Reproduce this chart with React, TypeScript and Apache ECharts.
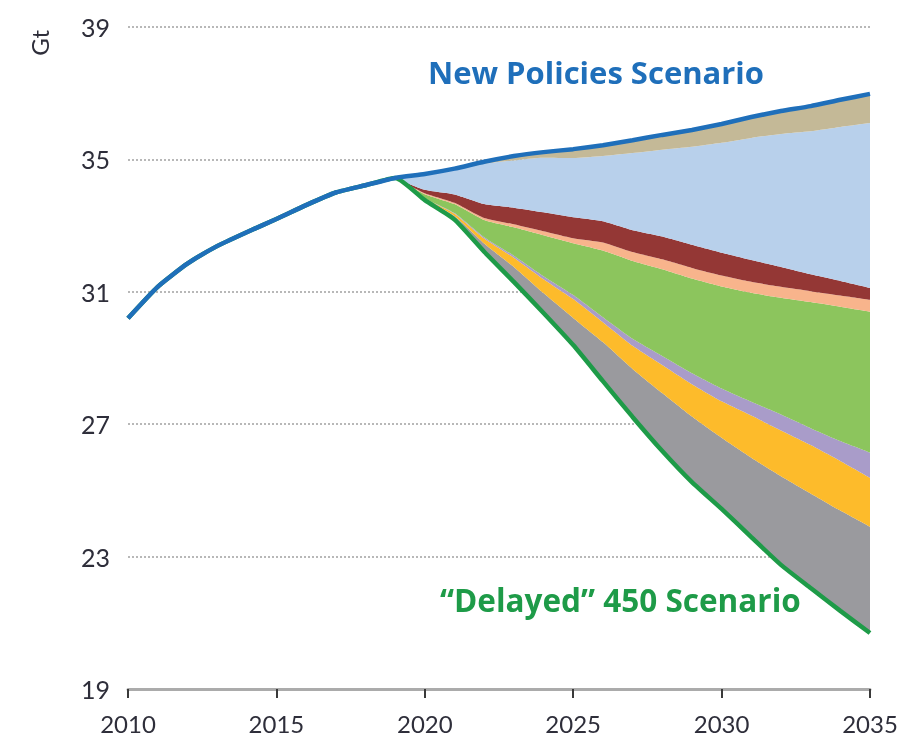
import React, { useEffect, useRef } from "react";
import * as echarts from "echarts";

const years = [
  "2010", "2011", "2012", "2013", "2014", "2015", "2016", "2017", "2018", "2019",
  "2020", "2021", "2022", "2023", "2024", "2025", "2026", "2027", "2028", "2029",
  "2030", "2031", "2032", "2033", "2034", "2035",
];

// New Policies Scenario (Gt)
const newPolicies = [
  30.2, 31.15, 31.85, 32.38, 32.8, 33.2, 33.62, 34.0, 34.22, 34.44,
  34.56, 34.72, 34.93, 35.1, 35.22, 35.31, 35.43, 35.58, 35.74, 35.89,
  36.07, 36.28, 36.46, 36.61, 36.8, 36.98,
];

// "Delayed" 450 Scenario (Gt)
const delayed450 = [
  30.2, 31.15, 31.85, 32.38, 32.8, 33.2, 33.62, 34.0, 34.22, 34.44,
  33.77, 33.18, 32.21, 31.3, 30.36, 29.39, 28.3, 27.22, 26.19, 25.25,
  24.44, 23.59, 22.75, 22.05, 21.36, 20.69,
];

// Wedge widths from 2019 to 2035 (Gt), bottom to top
const wedgeYears = 17;
const grayWedge = [0, 0.03, 0.11, 0.25, 0.45, 0.6, 0.82, 1.18, 1.45, 1.75, 1.98, 2.15, 2.4, 2.68, 2.86, 3.03, 3.21];
const orangeWedge = [0, 0.02, 0.07, 0.15, 0.28, 0.42, 0.57, 0.6, 0.7, 0.85, 0.98, 1.1, 1.27, 1.38, 1.46, 1.5, 1.48];
const purpleWedge = [0, 0.01, 0.02, 0.04, 0.06, 0.09, 0.12, 0.15, 0.21, 0.27, 0.33, 0.39, 0.42, 0.48, 0.51, 0.6, 0.76];
const greenWedge = [0, 0.12, 0.27, 0.52, 0.86, 1.24, 1.57, 2.02, 2.35, 2.62, 2.86, 3.08, 3.29, 3.53, 3.81, 4.06, 4.26];
const salmonWedge = [0, 0.03, 0.04, 0.06, 0.09, 0.12, 0.15, 0.24, 0.27, 0.3, 0.32, 0.33, 0.33, 0.33, 0.33, 0.34, 0.36];
const darkRedWedge = [0, 0.1, 0.25, 0.42, 0.5, 0.57, 0.63, 0.64, 0.66, 0.69, 0.7, 0.69, 0.66, 0.6, 0.51, 0.44, 0.36];
const lightBlueWedge = [0, 0.45, 0.74, 1.22, 1.43, 1.65, 1.79, 1.97, 2.33, 2.62, 2.96, 3.32, 3.69, 4.02, 4.32, 4.65, 4.98];
const tanWedge = [0, 0.03, 0.08, 0.11, 0.15, 0.19, 0.27, 0.33, 0.39, 0.45, 0.51, 0.57, 0.63, 0.69, 0.76, 0.82, 0.88];

const yTicks = { min: 19, max: 39, interval: 4 };

const wedges = [
  { name: "gray", data: grayWedge, color: "#9a9a9e" },
  { name: "orange", data: orangeWedge, color: "#fdbb2b" },
  { name: "purple", data: purpleWedge, color: "#a99cc9" },
  { name: "green", data: greenWedge, color: "#8cc55d" },
  { name: "salmon", data: salmonWedge, color: "#f8b48c" },
  { name: "darkred", data: darkRedWedge, color: "#943735" },
  { name: "lightblue", data: lightBlueWedge, color: "#b8d0eb" },
  { name: "tan", data: tanWedge, color: "#c4b997" },
];

const SMOOTH = 0.18;

const pad = (arr: number[]) => {
  const lead = years.length - wedgeYears;
  const out: (number | string)[] = [];
  for (let i = 0; i < lead; i++) out.push("-");
  return out.concat(arr);
};

export default function App() {
  const ref = useRef<HTMLDivElement>(null);

  useEffect(() => {
    if (!ref.current) return;
    const chart = echarts.init(ref.current, undefined, { renderer: "svg" });
    const lead = years.length - wedgeYears;
    const baseData = delayed450.map((v, i) => (i < lead ? "-" : v));

    const common = {
      type: "line",
      symbol: "none",
      smooth: SMOOTH,
    };

    const series: any[] = [
      {
        ...common,
        name: "base",
        stack: "w",
        data: baseData,
        lineStyle: { width: 0 },
        areaStyle: { opacity: 0 },
        silent: true,
        z: 2,
      },
      ...wedges.map((w) => ({
        ...common,
        name: w.name,
        stack: "w",
        data: pad(w.data),
        lineStyle: { width: 0 },
        areaStyle: { color: w.color, opacity: 1 },
        itemStyle: { color: w.color },
        silent: true,
        z: 2,
      })),
      {
        ...common,
        name: "Delayed 450",
        data: delayed450,
        lineStyle: { color: "#1e9b48", width: 4.5 },
        z: 3,
      },
      {
        ...common,
        name: "New Policies",
        data: newPolicies,
        lineStyle: { color: "#1f6fba", width: 4.5 },
        z: 4,
      },
    ];

    chart.setOption({
      animation: false,
      grid: { left: 128, right: 38, top: 27, bottom: 61, containLabel: false },
      xAxis: {
        type: "category",
        data: years,
        boundaryGap: false,
        axisLine: { show: true, lineStyle: { color: "#ababab", width: 3 } },
        axisTick: {
          show: true,
          interval: 4,
          length: 9,
          lineStyle: { color: "#3a3a3a", width: 2 },
        },
        axisLabel: {
          interval: 4,
          margin: 22,
          fontFamily: "Lato",
          fontSize: 24,
          color: "#2e2e3a",
        },
        splitLine: { show: false },
      },
      yAxis: {
        type: "value",
        min: yTicks.min,
        max: yTicks.max,
        interval: yTicks.interval,
        axisLine: { show: false },
        axisTick: { show: false },
        axisLabel: {
          margin: 18,
          fontFamily: "Lato",
          fontSize: 25,
          color: "#2e2e3a",
        },
        splitLine: {
          show: true,
          lineStyle: { color: "#b8b8b8", width: 2, type: [2, 2] },
        },
      },
      series,
      graphic: [
        {
          type: "text",
          left: 27,
          top: 30,
          rotation: Math.PI / 2,
          style: {
            text: "Gt",
            fontFamily: "Lato",
            fontSize: 24,
            fill: "#2e2e3a",
          },
        },
        {
          type: "text",
          left: 428,
          top: 56,
          style: {
            text: "New Policies Scenario",
            fontFamily: "Open Sans",
            fontWeight: "bold",
            fontSize: 31,
            fill: "#1f6fba",
          },
        },
        {
          type: "text",
          left: 440,
          top: 583,
          style: {
            text: "\u201CDelayed\u201D 450 Scenario",
            fontFamily: "Open Sans",
            fontWeight: "bold",
            fontSize: 31.5,
            fill: "#1e9b48",
          },
        },
      ],
    });

    return () => chart.dispose();
  }, []);

  return (
    <div
      ref={ref}
      style={{ position: "fixed", left: 0, top: 0, width: 908, height: 750 }}
    />
  );
}
